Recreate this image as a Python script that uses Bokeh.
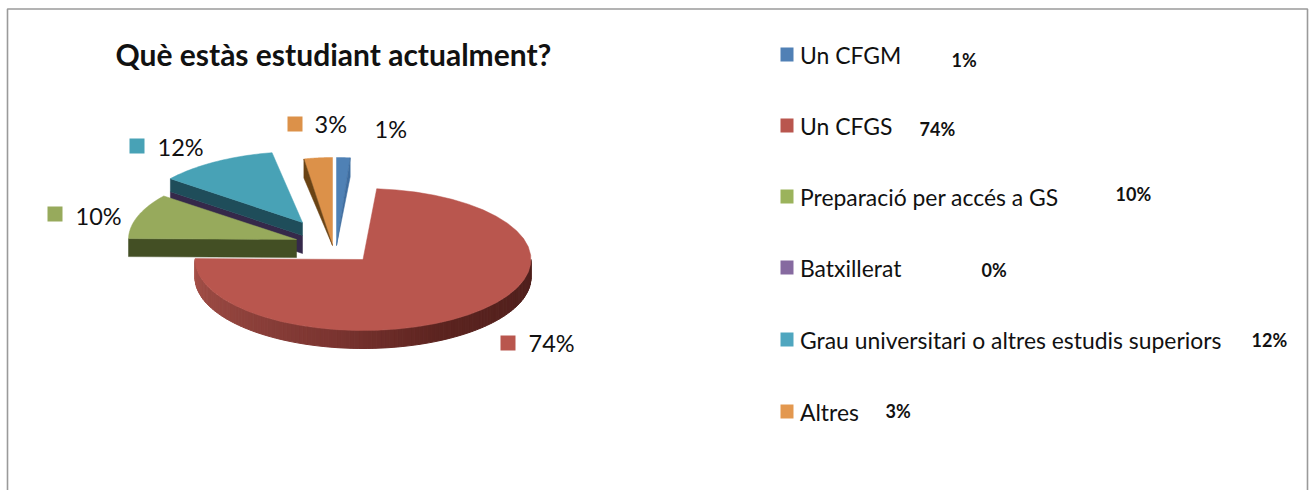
import numpy as np
from bokeh.plotting import figure
from bokeh.models import Range1d
from bokeh.core.properties import value
from bokeh.embed import file_html
from bokeh.resources import INLINE

title = "Què estàs estudiant actualment?"
categories = ["Un CFGM", "Un CFGS", "Preparació per accés a GS", "Batxillerat",
              "Grau universitari o altres estudis superiors", "Altres"]
shares = [1.3, 73.9, 10.3, 0.1, 11.5, 2.9]
percent_labels = [f"{round(v)}%" for v in shares]

top_colors = ["#4f81b5", "#b9564e", "#97aa5c", "#7f64a2", "#48a2b6", "#dc9149"]
legend_colors = ["#5080b5", "#b9564e", "#9bb35c", "#866aa0", "#4fa6bf", "#e3984f"]
side_colors = ["#3f6d9f", "#7a3330", "#434f24", "#35294a", "#1f4d5a", "#6a4314"]

# layout in reference pixels (y grows downward)
W, H = 1312, 490
apex = [(336, 245), (362.5, 259), (296, 239), (302, 235), (302, 222), (332, 245)]
radius_x = [168, 168, 168, 168, 168, 158]
radius_y = [88, 71, 71, 71, 71, 88]
depth = [19, 18, 18, 18, 13, 19]

p = figure(width=W, height=H, output_backend="svg", toolbar_location=None,
           x_range=Range1d(0, W), y_range=Range1d(H, 0),
           min_border=0, outline_line_color=None, background_fill_color="white",
           border_fill_color="white")
p.axis.visible = False
p.grid.visible = False

# frame
p.line([7, 7, 1307, 1307], [H, 8.5, 8.5, H], line_color="#9a9a9a", line_width=1.6)

edges = np.concatenate([[0], np.cumsum(shares)]) / sum(shares) * 2 * np.pi


def rim(i, a0, a1, n=40):
    t = np.linspace(a0, a1, n)
    return apex[i][0] + radius_x[i] * np.sin(t), apex[i][1] - radius_y[i] * np.cos(t)


def radial_side(i, angle):
    ex, ey = rim(i, angle, angle, 1)
    d = depth[i]
    ax, ay = apex[i]
    return [ax, ex[0], ex[0], ax], [ay, ey[0], ey[0] + d, ay + d]


def face(i):
    x, y = rim(i, edges[i], edges[i + 1])
    return [apex[i][0], *x], [apex[i][1], *y]


# CFGS: curved rim with a shaded band, then its top face
i = 1
t = np.linspace(np.pi / 2, 3 * np.pi / 2, 121)
rx, ry = apex[i][0] + radius_x[i] * np.sin(t), apex[i][1] - radius_y[i] * np.cos(t)
rim_stops = [(0.0, (78, 32, 29)), (0.35, (92, 36, 32)), (0.55, (122, 52, 48)), (1.0, (166, 82, 74))]
for k in range(len(t) - 1):
    f = k / (len(t) - 2)
    c = [np.interp(f, [s[0] for s in rim_stops], [s[1][j] for s in rim_stops]) for j in range(3)]
    col = "#%02x%02x%02x" % tuple(int(v) for v in c)
    p.patch([rx[k], rx[k + 1], rx[k + 1], rx[k]],
            [ry[k], ry[k + 1], ry[k + 1] + depth[i], ry[k] + depth[i]],
            fill_color=col, line_color=col, line_width=1)
x, y = face(i)
p.patch(x, y, fill_color=top_colors[i], line_color=top_colors[i], line_width=0.5)

# Batxillerat: only its side shows
sx, sy = radial_side(3, edges[4])
p.patch(sx, sy, fill_color=side_colors[3], line_color=side_colors[3], line_width=0.5)

# Preparació: front side, then face
sx, sy = radial_side(2, edges[2])
p.patch(sx, sy, fill_color=side_colors[2], line_color=side_colors[2], line_width=0.5)
x, y = face(2)
p.patch(x, y, fill_color=top_colors[2], line_color=top_colors[2], line_width=0.5)

# Grau: side, then face
sx, sy = radial_side(4, edges[4])
p.patch(sx, sy, fill_color=side_colors[4], line_color=side_colors[4], line_width=0.5)
x, y = face(4)
p.patch(x, y, fill_color=top_colors[4], line_color=top_colors[4], line_width=0.5)

# Altres: wedge with a side strip that narrows to the tip
ex, ey = rim(5, edges[5], edges[5], 1)
x, y = face(5)
p.patch(x, y, fill_color=top_colors[5], line_color=top_colors[5], line_width=0.5)
p.patch([ex[0], ex[0], apex[5][0]], [ey[0], ey[0] + depth[5], apex[5][1]],
        fill_color=side_colors[5], line_color=side_colors[5], line_width=0.5)

# Un CFGM: wedge with a side strip on the right
x, y = face(0)
p.patch(x, y, fill_color=top_colors[0], line_color=top_colors[0], line_width=0.5)
ex, ey = rim(0, edges[1], edges[1], 1)
p.patch([ex[0], ex[0], apex[0][0]], [ey[0], ey[0] + depth[0], apex[0][1]],
        fill_color=side_colors[0], line_color=side_colors[0], line_width=0.5)

# data labels with colour keys
font = value("Lato")
label_key = [None, (500, 335), (47, 206), None, (129, 138), (287, 116)]
label_pos = [(374, 128), (528, 342), (75, 215), None, (157, 146), (314, 123)]
for i, lab in enumerate(percent_labels):
    if label_pos[i] is None:
        continue
    p.text([label_pos[i][0]], [label_pos[i][1]], text=[lab], text_font=font, text_font_size="23.5px",
           text_color="#111111", text_baseline="middle", text_align="left")
    if label_key[i]:
        kx, ky = label_key[i]
        p.quad(left=[kx], right=[kx + 15], top=[ky], bottom=[ky + 15],
               fill_color=top_colors[i], line_color=None)

# title
p.text([115], [53], text=[title], text_font=font, text_font_style="bold", text_font_size="30px",
       text_color="#111111", text_baseline="middle", text_align="left")

# legend
legend_y = [56, 127, 198, 269, 341, 413]
legend_value_x = [951, 919, 1115, 981, 1251, 885]
legend_value_y = [59, 128, 193, 269, 339, 410]
for i, name in enumerate(categories):
    p.quad(left=[780], right=[793], top=[legend_y[i] - 9], bottom=[legend_y[i] + 5],
           fill_color=legend_colors[i], line_color=None)
    p.text([799.5], [legend_y[i] - 2], text=[name], text_font=font, text_font_size="22.9px",
           text_color="#111111", text_baseline="middle", text_align="left")
    p.text([legend_value_x[i]], [legend_value_y[i]], text=[percent_labels[i]], text_font=font,
           text_font_style="bold", text_font_size="18px", text_color="#111111",
           text_baseline="middle", text_align="left")

open("out.html", "w").write(file_html(p, INLINE))
